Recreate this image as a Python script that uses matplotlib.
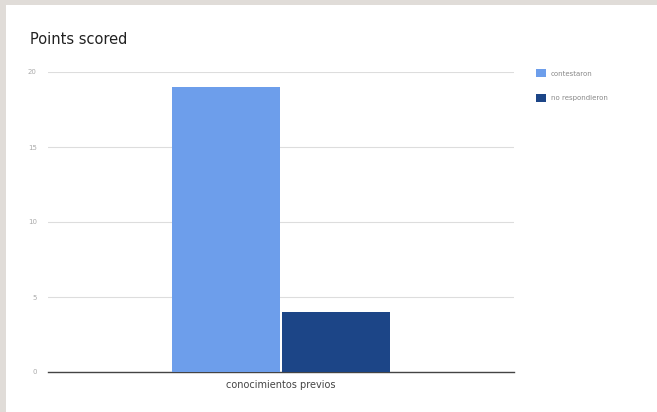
import matplotlib.pyplot as plt
from matplotlib.patches import Rectangle

categories = ['conocimientos previos']
series_names = ['contestaron', 'no respondieron']
series_values = [[19], [4]]
series_colors = ['#6d9eeb', '#1c4587']
y_ticks = [0, 5, 10, 15, 20]

fig = plt.figure(figsize=(6.57, 4.12), dpi=100)
fig.patch.set_facecolor('#e0dcd8')
# white card over the grey frame
fig.add_artist(Rectangle((6 / 657, 0), 1, (412 - 5) / 412,
                         transform=fig.transFigure, facecolor='white',
                         edgecolor='none', zorder=0))

ax = fig.add_axes([48 / 657, 40 / 412, 466 / 657, 300 / 412])
ax.set_facecolor('white')

w = 110 / 466
offsets = [-w / 2, w / 2]
bars = []
for name, vals, col, off in zip(series_names, series_values, series_colors, offsets):
    b = ax.bar([i + off for i in range(len(categories))], vals, width=w - 0.003,
               color=col, label=name, zorder=3)
    bars.append(b)

ax.set_xlim(-0.5, 0.5)
ax.set_ylim(0, 20)
ax.set_yticks(y_ticks)
ax.set_yticklabels([str(t) for t in y_ticks], fontsize=5, color='#aaaaaa')
ax.set_xticks(range(len(categories)))
ax.set_xticklabels(categories, fontsize=7, color='#444444')
ax.tick_params(length=0)
ax.tick_params(axis='y', pad=8)
ax.tick_params(axis='x', pad=6)
ax.yaxis.grid(True, color='#dddddd', linewidth=0.8, zorder=0)
for s in ['top', 'right', 'left']:
    ax.spines[s].set_visible(False)
ax.spines['bottom'].set_color('#444444')
ax.spines['bottom'].set_linewidth(1)

fig.text(30 / 657, 1 - 40 / 412, 'Points scored', fontsize=10.5,
         color='#222222', va='center', ha='left')

fig.legend(handles=bars, labels=series_names, loc='upper left',
           bbox_to_anchor=(530 / 657, 1 - 63 / 412), frameon=False,
           fontsize=5, labelcolor='#888888', handlelength=1.4, handleheight=1.4,
           handletextpad=0.7, labelspacing=2.4)

fig.savefig('out.png', dpi=100)
